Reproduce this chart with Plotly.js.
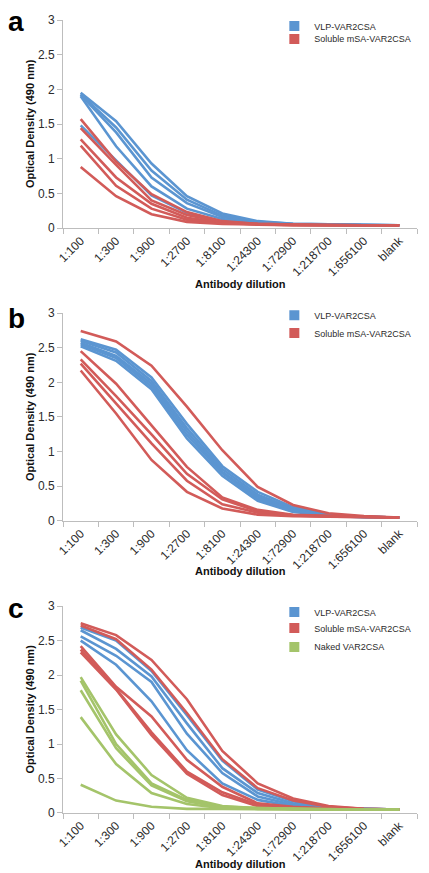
<!DOCTYPE html>
<html>
<head>
<meta charset="utf-8">
<script src="https://cdn.plot.ly/plotly-3.0.1.min.js"></script>
<style>html,body{margin:0;padding:0;background:#fff;}#chart{width:429px;height:873px;}</style>
</head>
<body>
<div id="chart"></div>
<script>
const dilutions = ["1:100","1:300","1:900","1:2700","1:8100","1:24300","1:72900","1:218700","1:656100","blank"];
const yTicks = [0, 0.5, 1, 1.5, 2, 2.5, 3];
const seriesNames = ["VLP-VAR2CSA", "Soluble mSA-VAR2CSA", "Naked VAR2CSA"];
const panelLetters = ["a", "b", "c"];
const xTitle = "Antibody dilution";
const yTitle = "Optical Density (490 nm)";

// Panel a
const aVLP = [
  [1.95, 1.54, 0.93, 0.46, 0.21, 0.10, 0.06, 0.05, 0.04, 0.04],
  [1.93, 1.45, 0.83, 0.41, 0.18, 0.09, 0.06, 0.05, 0.04, 0.04],
  [1.92, 1.38, 0.73, 0.36, 0.16, 0.08, 0.05, 0.05, 0.04, 0.04],
  [1.90, 1.18, 0.60, 0.28, 0.13, 0.07, 0.05, 0.04, 0.04, 0.04],
  [1.48, 0.98, 0.47, 0.22, 0.10, 0.06, 0.05, 0.04, 0.04, 0.04]
];
const aSoluble = [
  [1.57, 0.96, 0.49, 0.23, 0.10, 0.06, 0.05, 0.04, 0.04, 0.04],
  [1.44, 0.91, 0.40, 0.19, 0.09, 0.06, 0.05, 0.04, 0.04, 0.04],
  [1.28, 0.73, 0.35, 0.15, 0.08, 0.05, 0.04, 0.04, 0.04, 0.04],
  [1.19, 0.61, 0.28, 0.12, 0.07, 0.05, 0.04, 0.04, 0.04, 0.04],
  [0.88, 0.46, 0.20, 0.09, 0.06, 0.05, 0.04, 0.04, 0.04, 0.04]
];
// Panel b
const bVLP = [
  [2.62, 2.47, 2.07, 1.40, 0.79, 0.42, 0.20, 0.10, 0.06, 0.05],
  [2.60, 2.43, 2.02, 1.34, 0.75, 0.38, 0.18, 0.09, 0.06, 0.05],
  [2.57, 2.38, 1.98, 1.29, 0.71, 0.35, 0.16, 0.09, 0.06, 0.05],
  [2.55, 2.35, 1.94, 1.24, 0.69, 0.32, 0.15, 0.08, 0.06, 0.05],
  [2.52, 2.31, 1.90, 1.19, 0.65, 0.29, 0.13, 0.08, 0.05, 0.05]
];
const bSoluble = [
  [2.74, 2.59, 2.24, 1.65, 1.02, 0.49, 0.23, 0.11, 0.07, 0.05],
  [2.45, 1.98, 1.38, 0.78, 0.34, 0.16, 0.09, 0.07, 0.06, 0.05],
  [2.33, 1.80, 1.25, 0.68, 0.31, 0.14, 0.08, 0.07, 0.06, 0.05],
  [2.27, 1.70, 1.12, 0.58, 0.24, 0.12, 0.08, 0.06, 0.05, 0.05],
  [2.17, 1.55, 0.88, 0.42, 0.18, 0.09, 0.07, 0.06, 0.05, 0.05]
];
// Panel c
const cVLP = [
  [2.69, 2.50, 2.06, 1.42, 0.76, 0.34, 0.17, 0.08, 0.06, 0.05],
  [2.65, 2.38, 1.98, 1.30, 0.65, 0.29, 0.14, 0.08, 0.06, 0.05],
  [2.56, 2.28, 1.90, 1.15, 0.58, 0.24, 0.12, 0.07, 0.06, 0.05],
  [2.50, 2.15, 1.62, 0.91, 0.43, 0.19, 0.10, 0.07, 0.05, 0.05]
];
const cSoluble = [
  [2.75, 2.58, 2.22, 1.65, 0.90, 0.43, 0.21, 0.10, 0.06, 0.05],
  [2.72, 2.52, 2.08, 1.45, 0.78, 0.36, 0.18, 0.09, 0.06, 0.05],
  [2.42, 1.83, 1.40, 0.77, 0.38, 0.14, 0.09, 0.06, 0.05, 0.05],
  [2.37, 1.80, 1.17, 0.60, 0.30, 0.12, 0.08, 0.06, 0.05, 0.05],
  [2.33, 1.79, 1.13, 0.57, 0.26, 0.10, 0.08, 0.06, 0.05, 0.05]
];
const cNaked = [
  [1.97, 1.14, 0.55, 0.22, 0.10, 0.07, 0.06, 0.05, 0.05, 0.05],
  [1.92, 1.00, 0.43, 0.19, 0.09, 0.07, 0.06, 0.05, 0.05, 0.05],
  [1.78, 0.94, 0.40, 0.17, 0.08, 0.06, 0.06, 0.05, 0.05, 0.05],
  [1.39, 0.71, 0.29, 0.13, 0.07, 0.06, 0.05, 0.05, 0.05, 0.05],
  [0.41, 0.18, 0.09, 0.06, 0.06, 0.05, 0.05, 0.05, 0.05, 0.05]
];

const colors = ["#5B95D1", "#D25B59", "#A4C46A"];
const FONT = "Liberation Sans, Arial, sans-serif";
const TXT = "#2b2b2b";
const AX = "#BDBDBD";

const panels = [
  {groups: [aVLP, aSoluble], xa: "x", ya: "y", legs: ["legend2", "legend3"], legY: [1.0106, 0.9944]},
  {groups: [bVLP, bSoluble], xa: "x2", ya: "y2", legs: ["legend4", "legend5"], legY: [0.6461, 0.6236]},
  {groups: [cVLP, cSoluble, cNaked], xa: "x3", ya: "y3", legs: ["legend6", "legend7", "legend8"], legY: [0.2716, 0.2515, 0.2277]}
];

const traces = [];
panels.forEach((p, pi) => {
  p.groups.forEach((g, gi) => {
    g.forEach(vals => {
      traces.push({
        type: "scatter", mode: "lines", x: dilutions, y: vals,
        xaxis: p.xa, yaxis: p.ya, showlegend: false, legend: p.legs[gi],
        line: {color: colors[gi], width: 2.6}, hoverinfo: "skip"
      });
    });
  });
  p.groups.forEach((g, gi) => {
    traces.push({
      type: "scatter", mode: "markers", x: [null], y: [null],
      xaxis: p.xa, yaxis: p.ya, name: seriesNames[gi], legend: p.legs[gi],
      marker: {symbol: "square", size: 10, color: colors[gi]}, showlegend: true
    });
  });
});

function xAxis(anchor) {
  return {
    anchor: anchor, domain: [0, 1], type: "category",
    categoryorder: "array", categoryarray: dilutions,
    range: [-0.5, dilutions.length - 0.5],
    tickangle: -45, tickson: "boundaries", ticks: "outside", ticklen: 5,
    tickcolor: AX, showline: true, linecolor: AX, linewidth: 1,
    showgrid: false, zeroline: false,
    tickfont: {family: FONT, size: 12, color: TXT}
  };
}
function yAxis(anchor, domain) {
  return {
    anchor: anchor, domain: domain, range: [0, 3], tickvals: yTicks,
    ticks: "outside", ticklen: 5, tickcolor: AX,
    showline: true, linecolor: AX, linewidth: 1, showgrid: false, zeroline: false,
    tickfont: {family: FONT, size: 12, color: TXT}
  };
}
function legend(y) {
  return {
    x: 0.597, xanchor: "left", y: y, yanchor: "top",
    bgcolor: "rgba(0,0,0,0)", borderwidth: 0,
    font: {family: FONT, size: 9, color: TXT},
    itemwidth: 30, tracegroupgap: 0, traceorder: "normal"
  };
}

const yDomains = [[0.7376, 1.0], [0.3683, 0.6305], [0.0, 0.2609]];
const xTitleY = [0.6675, 0.3047, -0.0648];
const letterY = [0.9975, 0.623, 0.2584];

const annotations = [];
panelLetters.forEach((t, i) => {
  annotations.push({
    text: "<b>" + t + "</b>", xref: "paper", yref: "paper",
    x: -0.16, y: letterY[i], xanchor: "left", yanchor: "middle",
    showarrow: false, font: {family: FONT, size: 28, color: "#000"}
  });
  annotations.push({
    text: "<b>" + xTitle + "</b>", xref: "paper", yref: "paper",
    x: 0.5, y: xTitleY[i], xanchor: "center", yanchor: "middle",
    showarrow: false, font: {family: FONT, size: 11, color: "#111"}
  });
  annotations.push({
    text: "<b>" + yTitle + "</b>", xref: "paper", yref: "paper",
    x: -0.0932, y: (yDomains[i][0] + yDomains[i][1]) / 2, xanchor: "center", yanchor: "middle",
    textangle: -90, showarrow: false, font: {family: FONT, size: 11, color: "#111"}
  });
});

const layout = {
  width: 429, height: 873,
  margin: {l: 63, r: 12, t: 15, b: 60},
  paper_bgcolor: "#fff", plot_bgcolor: "#fff",
  showlegend: true,
  xaxis: xAxis("y"), yaxis: yAxis("x", yDomains[0]),
  xaxis2: xAxis("y2"), yaxis2: yAxis("x2", yDomains[1]),
  xaxis3: xAxis("y3"), yaxis3: yAxis("x3", yDomains[2]),
  legend: {visible: false},
  annotations: annotations
};
panels.forEach(p => p.legs.forEach((lg, k) => { layout[lg] = legend(p.legY[k]); }));

Plotly.newPlot("chart", traces, layout, {displayModeBar: false, staticPlot: true});
</script>
</body>
</html>
